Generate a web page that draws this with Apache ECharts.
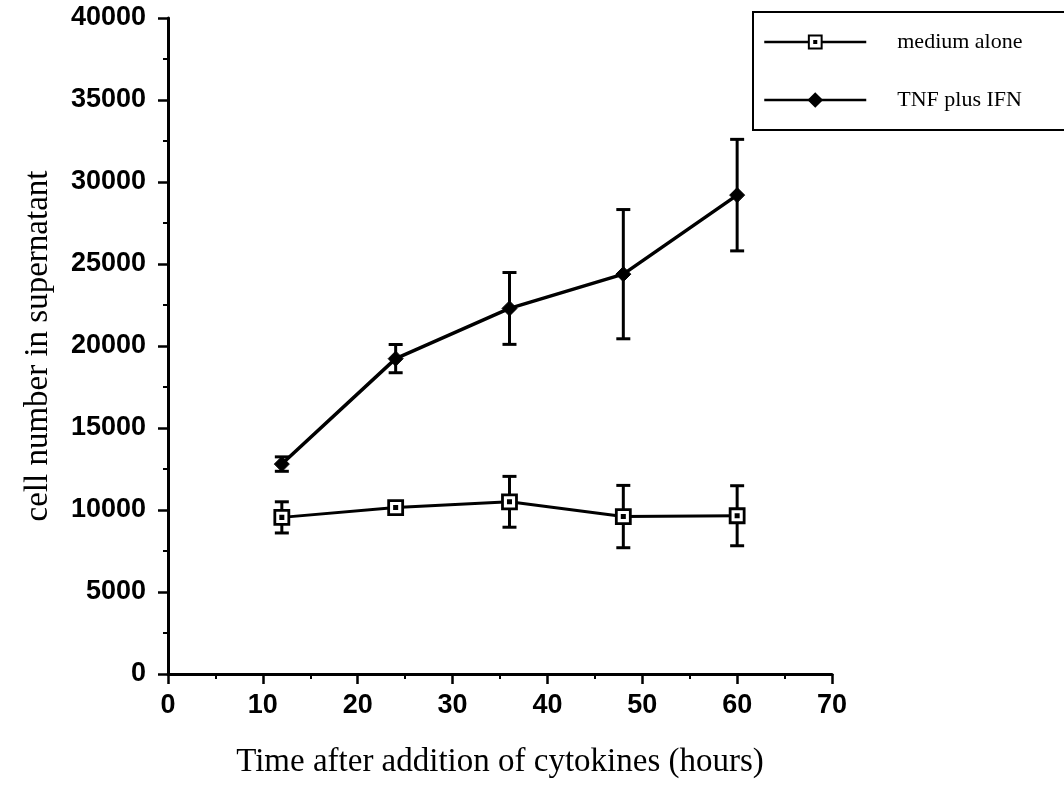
<!DOCTYPE html>
<html>
<head>
<meta charset="utf-8">
<script src="https://cdn.jsdelivr.net/npm/echarts@6/dist/echarts.min.js"></script>
<style>
  html, body { margin: 0; padding: 0; background: #fff; }
  #chart { width: 1064px; height: 798px; }
</style>
</head>
<body>
<div id="chart"></div>
<script>
// ---- data ----
const seriesNames = ['medium alone', 'TNF plus IFN'];
const times = [12, 24, 36, 48, 60];
const mediumMean = [9550, 10150, 10500, 9600, 9650];
const mediumErr = [950, 300, 1550, 1900, 1830];
const tnfMean = [12800, 19230, 22290, 24380, 29200];
const tnfErr = [440, 860, 2190, 3940, 3400];
const xTitle = 'Time after addition of cytokines (hours)';
const yTitle = 'cell number in supernatant';

const chart = echarts.init(document.getElementById('chart'), null, { renderer: 'canvas' });

function pairs(xs, ys) { return xs.map((x, i) => [x, ys[i]]); }
function errData(xs, ys, es) { return xs.map((x, i) => [x, ys[i] - es[i], ys[i] + es[i]]); }

function errRender(params, api) {
  const x = api.value(0);
  const lo = api.coord([x, api.value(1)]);
  const hi = api.coord([x, api.value(2)]);
  const cap = 7;
  const style = { stroke: '#000', lineWidth: 3, fill: null };
  return {
    type: 'group',
    children: [
      { type: 'line', shape: { x1: lo[0], y1: lo[1], x2: hi[0], y2: hi[1] }, style },
      { type: 'line', shape: { x1: lo[0] - cap, y1: lo[1], x2: lo[0] + cap, y2: lo[1] }, style },
      { type: 'line', shape: { x1: hi[0] - cap, y1: hi[1], x2: hi[0] + cap, y2: hi[1] }, style }
    ]
  };
}

const axisFont = { fontFamily: 'Liberation Sans', fontSize: 27, fontWeight: 'bold', color: '#000',
  formatter: v => String(v) };

const option = {
  animation: false,
  backgroundColor: '#fff',
  grid: { left: 168, right: 232, top: 18, bottom: 124, containLabel: false },
  legend: {
    orient: 'vertical',
    left: 753,
    top: 12,
    padding: [19, 53, 19, 10],
    itemGap: 36,
    itemWidth: 102,
    itemHeight: 16,
    borderColor: '#000',
    borderWidth: 2,
    lineStyle: { width: 2.5 },
    data: seriesNames,
    textStyle: { fontFamily: 'Liberation Serif', fontSize: 22, color: '#000', padding: [0, 0, 0, 26] }
  },
  xAxis: {
    type: 'value', min: 0, max: 70, interval: 10,
    name: xTitle, nameLocation: 'middle', nameGap: 72,
    nameTextStyle: { fontFamily: 'Liberation Serif', fontSize: 33, color: '#000' },
    axisLine: { show: true, onZero: false, lineStyle: { color: '#000', width: 3 } },
    axisTick: { show: true, inside: false, length: 10, lineStyle: { color: '#000', width: 2.5 } },
    minorTick: { show: true, splitNumber: 2, length: 5, lineStyle: { color: '#000', width: 2 } },
    axisLabel: Object.assign({ margin: 18 }, axisFont),
    splitLine: { show: false }
  },
  yAxis: {
    type: 'value', min: 0, max: 40000, interval: 5000,
    name: yTitle, nameLocation: 'middle', nameGap: 113, nameRotate: 90,
    nameTextStyle: { fontFamily: 'Liberation Serif', fontSize: 33, color: '#000' },
    axisLine: { show: true, onZero: false, lineStyle: { color: '#000', width: 3 } },
    axisTick: { show: true, inside: false, length: 10, lineStyle: { color: '#000', width: 2.5 } },
    minorTick: { show: true, splitNumber: 2, length: 5, lineStyle: { color: '#000', width: 2 } },
    axisLabel: Object.assign({ margin: 22 }, axisFont),
    splitLine: { show: false }
  },
  series: [
    {
      type: 'custom', name: 'err-medium', z: 1,
      renderItem: errRender, data: errData(times, mediumMean, mediumErr),
      silent: true
    },
    {
      type: 'custom', name: 'err-tnf', z: 1,
      renderItem: errRender, data: errData(times, tnfMean, tnfErr),
      silent: true
    },
    {
      name: seriesNames[0], type: 'line', z: 3,
      data: pairs(times, mediumMean),
      symbol: 'path://M0,0H10V10H0Z M4.2,4.2H5.8V5.8H4.2Z',
      symbolSize: 14,
      showAllSymbol: true,
      lineStyle: { color: '#000', width: 3 },
      itemStyle: { color: '#fff', borderColor: '#000', borderWidth: 2.8 }
    },
    {
      name: seriesNames[1], type: 'line', z: 3,
      data: pairs(times, tnfMean),
      symbol: 'diamond', symbolSize: 15,
      showAllSymbol: true,
      lineStyle: { color: '#000', width: 3.5 },
      itemStyle: { color: '#000', borderColor: '#000', borderWidth: 1 }
    }
  ]
};

chart.setOption(option);
</script>
</body>
</html>
